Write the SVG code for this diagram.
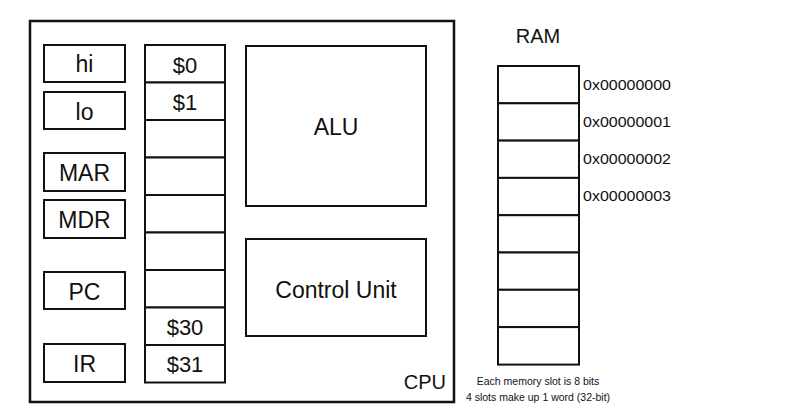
<svg xmlns="http://www.w3.org/2000/svg" width="810" height="419" viewBox="0 0 810 419">
<style>
  .box { fill: #ffffff; stroke: #111111; stroke-width: 2; }
  .cpu { fill: #ffffff; stroke: #111111; stroke-width: 2.5; }
  .t { font-family: "Liberation Sans", Arial, Helvetica, sans-serif; fill: #111111; }
  .lbl { font-size: 23px; text-anchor: middle; }
  .reg { font-size: 22px; text-anchor: middle; }
  .big { font-size: 23px; text-anchor: middle; }
  .addr { font-size: 14.5px; }
  .cap { font-size: 10.5px; text-anchor: middle; }
</style>
<rect width="810" height="419" fill="#ffffff"/>
<g id="cpu">
  <rect class="cpu" x="30" y="21" width="424" height="381"/>
  <text class="t" x="446" y="389" font-size="20" text-anchor="end">CPU</text>
</g>
<g id="hi"><rect class="box" x="44" y="45" width="81" height="37"/><text class="t lbl" x="84.5" y="72">hi</text></g>
<g id="lo"><rect class="box" x="44" y="92" width="81" height="37"/><text class="t lbl" x="84.5" y="119.5">lo</text></g>
<g id="mar"><rect class="box" x="44" y="153" width="81" height="38"/><text class="t lbl" x="84.5" y="181">MAR</text></g>
<g id="mdr"><rect class="box" x="44" y="200" width="81" height="38"/><text class="t lbl" x="84.5" y="228">MDR</text></g>
<g id="pc"><rect class="box" x="44" y="272" width="81" height="37"/><text class="t lbl" x="84.5" y="299.5">PC</text></g>
<g id="ir"><rect class="box" x="44" y="344" width="81" height="38"/><text class="t lbl" x="84.5" y="372">IR</text></g>
<g id="registers">
  <rect class="box" x="145" y="45" width="80" height="37.5"/>
  <rect class="box" x="145" y="82.5" width="80" height="37.5"/>
  <rect class="box" x="145" y="120" width="80" height="37.5"/>
  <rect class="box" x="145" y="157.5" width="80" height="37.5"/>
  <rect class="box" x="145" y="195" width="80" height="37.5"/>
  <rect class="box" x="145" y="232.5" width="80" height="37.5"/>
  <rect class="box" x="145" y="270" width="80" height="37.5"/>
  <rect class="box" x="145" y="307.5" width="80" height="37.5"/>
  <rect class="box" x="145" y="345" width="80" height="37.5"/>
  <text class="t reg" x="185" y="73">$0</text>
  <text class="t reg" x="185" y="110">$1</text>
  <text class="t reg" x="185" y="335">$30</text>
  <text class="t reg" x="185" y="371.5">$31</text>
</g>
<g id="alu"><rect class="box" x="246" y="46" width="180" height="160"/><text class="t big" x="336" y="135">ALU</text></g>
<g id="control-unit"><rect class="box" x="246" y="239" width="180" height="97"/><text class="t big" x="336" y="298">Control Unit</text></g>
<g id="ram">
  <text class="t" x="538" y="43" font-size="20" text-anchor="middle">RAM</text>
  <rect class="box" x="498" y="66" width="81" height="37.3"/>
  <rect class="box" x="498" y="103.3" width="81" height="37.3"/>
  <rect class="box" x="498" y="140.6" width="81" height="37.3"/>
  <rect class="box" x="498" y="177.9" width="81" height="37.3"/>
  <rect class="box" x="498" y="215.2" width="81" height="37.3"/>
  <rect class="box" x="498" y="252.5" width="81" height="37.3"/>
  <rect class="box" x="498" y="289.8" width="81" height="37.3"/>
  <rect class="box" x="498" y="327.1" width="81" height="37.5"/>
  <text class="t addr" x="583" y="89.5" textLength="88" lengthAdjust="spacingAndGlyphs">0x00000000</text>
  <text class="t addr" x="583" y="126.5" textLength="88" lengthAdjust="spacingAndGlyphs">0x00000001</text>
  <text class="t addr" x="583" y="164" textLength="88" lengthAdjust="spacingAndGlyphs">0x00000002</text>
  <text class="t addr" x="583" y="201" textLength="88" lengthAdjust="spacingAndGlyphs">0x00000003</text>
  <text class="t cap" x="538" y="385">Each memory slot is 8 bits</text>
  <text class="t cap" x="538" y="401">4 slots make up 1 word (32-bit)</text>
</g>
</svg>
